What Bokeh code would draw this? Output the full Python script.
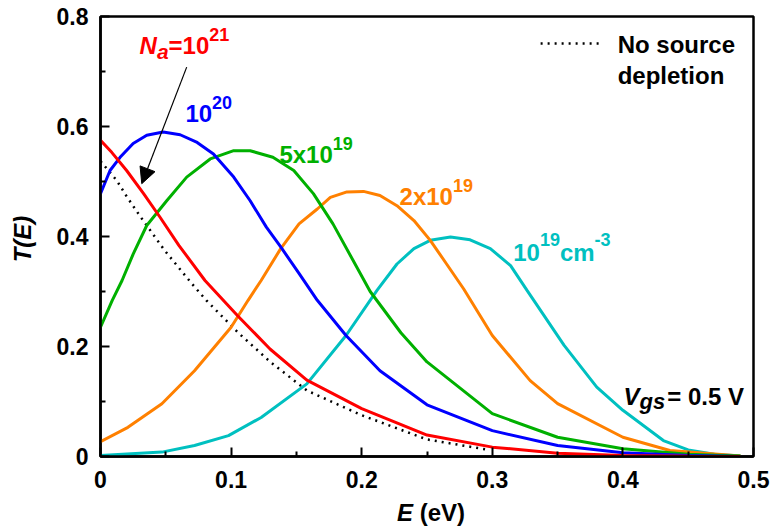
import math
from bokeh.plotting import figure
from bokeh.models import Label, Arrow, NormalHead, Range1d, FixedTicker
from bokeh.embed import file_html
from bokeh.resources import INLINE

# ---------------- data ----------------
E_red = [0, 0.0086, 0.02, 0.033, 0.0456, 0.06, 0.08, 0.105, 0.13, 0.158, 0.2, 0.25, 0.3, 0.35, 0.4, 0.45, 0.49]
T_red = [0.575, 0.553, 0.52, 0.478, 0.435, 0.384, 0.32, 0.256, 0.195, 0.139, 0.087, 0.039, 0.017, 0.006, 0.002, 0.0005, 0.0]

E_dot = [0, 0.0124, 0.02, 0.03, 0.049, 0.07, 0.081, 0.105, 0.13, 0.158, 0.2, 0.25, 0.295]
T_dot = [0.537, 0.502, 0.473, 0.438, 0.375, 0.314, 0.284, 0.226, 0.172, 0.12, 0.075, 0.031, 0.013]

E_blue = [0, 0.0073, 0.015, 0.025, 0.0354, 0.048, 0.061, 0.074, 0.0865, 0.102, 0.1146, 0.127, 0.138, 0.152,
          0.166, 0.188, 0.214, 0.25, 0.3, 0.35, 0.4, 0.45, 0.49]
T_blue = [0.478, 0.52, 0.544, 0.569, 0.584, 0.59, 0.585, 0.571, 0.55, 0.508, 0.465, 0.417, 0.381, 0.333,
          0.284, 0.22, 0.156, 0.094, 0.047, 0.02, 0.007, 0.002, 0.0]

E_green = [0, 0.009, 0.0165, 0.025, 0.0354, 0.0507, 0.066, 0.084, 0.102, 0.1146, 0.132, 0.148, 0.163, 0.178,
           0.2065, 0.23, 0.25, 0.3, 0.35, 0.4, 0.45, 0.49]
T_green = [0.235, 0.284, 0.32, 0.368, 0.42, 0.465, 0.508, 0.541, 0.556, 0.556, 0.544, 0.52, 0.478, 0.423,
           0.3, 0.225, 0.172, 0.078, 0.035, 0.014, 0.004, 0.001]

E_orange = [0, 0.021, 0.047, 0.072, 0.1, 0.113, 0.123, 0.138, 0.152, 0.166, 0.176, 0.1887, 0.2014, 0.214, 0.227,
            0.24, 0.2525, 0.265, 0.278, 0.3, 0.329, 0.35, 0.4, 0.436, 0.49]
T_orange = [0.027, 0.053, 0.096, 0.156, 0.235, 0.284, 0.32, 0.378, 0.423, 0.45, 0.471, 0.481, 0.482, 0.4745, 0.456,
            0.429, 0.393, 0.35, 0.305, 0.22, 0.138, 0.096, 0.035, 0.011, 0.001]

E_cyan = [0, 0.047, 0.072, 0.098, 0.123, 0.158, 0.188, 0.2117, 0.227, 0.24, 0.2525, 0.268, 0.283, 0.2985, 0.314,
          0.3266, 0.355, 0.38, 0.4, 0.431, 0.45, 0.47, 0.49]
T_cyan = [0.002, 0.008, 0.02, 0.038, 0.071, 0.132, 0.22, 0.302, 0.35, 0.378, 0.393, 0.399, 0.394, 0.378, 0.347,
          0.302, 0.202, 0.126, 0.084, 0.029, 0.012, 0.004, 0.001]

x_ticks = [0, 0.1, 0.2, 0.3, 0.4, 0.5]
x_tick_labels = ["0", "0.1", "0.2", "0.3", "0.4", "0.5"]
x_minor = [0.05, 0.15, 0.25, 0.35, 0.45]
y_ticks = [0, 0.2, 0.4, 0.6, 0.8]
y_tick_labels = ["0", "0.2", "0.4", "0.6", "0.8"]
y_minor = [0.1, 0.3, 0.5, 0.7]

legend_sample_E = [0.337, 0.384]
legend_sample_T = [0.751, 0.751]

FONT = "Liberation Sans"
RED, BLUE, GREEN, ORANGE, CYAN = "#ff0000", "#0000ff", "#00b000", "#ff8000", "#00c0c0"
BASE_FIX = 8  # px: lift text so that its baseline sits at the anchor

p = figure(width=773, height=527, x_range=Range1d(0, 0.5), y_range=Range1d(0, 0.8),
           output_backend="svg", toolbar_location=None,
           min_border_left=100, min_border_right=20, min_border_top=16, min_border_bottom=71)
p.grid.visible = False
p.background_fill_color = "white"
p.border_fill_color = "white"
p.outline_line_color = "black"
p.outline_line_width = 2.5

p.xaxis.ticker = FixedTicker(ticks=x_ticks, minor_ticks=x_minor)
p.yaxis.ticker = FixedTicker(ticks=y_ticks, minor_ticks=y_minor)
p.xaxis.major_label_overrides = dict(zip(x_ticks, x_tick_labels))
p.yaxis.major_label_overrides = dict(zip(y_ticks, y_tick_labels))
for ax in (p.xaxis, p.yaxis):
    ax.axis_line_width = 2.5
    ax.axis_line_color = "black"
    ax.major_tick_in = 9
    ax.major_tick_out = 0
    ax.minor_tick_in = 5
    ax.minor_tick_out = 0
    ax.major_tick_line_width = 2
    ax.minor_tick_line_width = 2
    ax.major_label_text_font = FONT
    ax.major_label_text_font_style = "bold"
    ax.major_label_text_font_size = "23px"
    ax.major_label_text_color = "black"
p.xaxis.major_label_standoff = 14
p.yaxis.major_label_standoff = 12

# curves
LW = 3
p.line(E_dot, T_dot, line_color="black", line_width=2.5, line_dash="2 5")
p.line(E_cyan, T_cyan, line_color=CYAN, line_width=LW)
p.line(E_orange, T_orange, line_color=ORANGE, line_width=LW)
p.line(E_green, T_green, line_color=GREEN, line_width=LW)
p.line(E_blue, T_blue, line_color=BLUE, line_width=LW)
p.line(E_red, T_red, line_color=RED, line_width=LW)
p.line(legend_sample_E, legend_sample_T, line_color="black", line_width=2.5, line_dash="2 5")

# arrow
p.add_layout(Arrow(end=NormalHead(size=16, fill_color="black", line_color="black", line_width=1),
                   x_start=0.066, y_start=0.708, x_end=0.0316, y_end=0.496,
                   line_color="black", line_width=1.2))

W = {'0': 556, '1': 556, '2': 556, '3': 556, '4': 556, '5': 556, '6': 556, '7': 556, '8': 556, '9': 556,
     '.': 278, 'x': 556, '=': 584, 'N': 722, 'a': 556, 'c': 556, 'm': 889, '-': 333, 'V': 667,
     'g': 611, 's': 556, ' ': 278, 'E': 667, 'T': 611, '(': 333, ')': 333, 'e': 556, 'v': 556,
     'o': 611, 'u': 611, 'r': 389, 'd': 611, 'p': 611, 'l': 278, 't': 333, 'i': 278, 'n': 611}


def tw(s, size):
    return sum(W.get(c, 556) for c in s) * size / 1000.0


def make_label(x, y, text, size, italic, color, xo=0.0, yo=0.0, angle=0.0):
    if angle == 0.0:
        yo = yo + BASE_FIX
    else:
        xo = xo - BASE_FIX
    lab = Label(x=x, y=y, x_offset=xo, y_offset=yo, text=text, angle=angle)
    lab.text_font = FONT
    lab.text_font_style = "bold italic" if italic else "bold"
    lab.text_font_size = f"{size}px"
    lab.text_color = color
    lab.text_align = "left"
    lab.text_baseline = "alphabetic"
    return lab


def rich(x, y, parts, color, place="center"):
    # parts: (text, size_px, italic, raise_px, extra_gap_px)
    off = 0.0
    for txt, size, italic, dy, gap in parts:
        off += gap
        lab = make_label(x, y, txt, size, italic, color, xo=off, yo=dy)
        if place == "center":
            p.add_layout(lab)
        else:
            p.add_layout(lab, place)
        off += tw(txt, size)


rich(0.0299, 0.733, [("N", 24, True, 0, 0), ("a", 21, True, -6, 0), ("=10", 24, False, 0, 0),
                     ("21", 18, False, 11, 0)], RED)
rich(0.065, 0.609, [("10", 24, False, 0, 0), ("20", 18, False, 11, 0)], BLUE)
rich(0.137, 0.535, [("5x10", 24, False, 0, 0), ("19", 18, False, 11, 0)], GREEN)
rich(0.229, 0.458, [("2x10", 24, False, 0, 0), ("19", 18, False, 11, 0)], ORANGE)
rich(0.316, 0.356, [("10", 24, False, 0, 0), ("19", 18, False, 13, 0), ("cm", 24, False, 0, 0),
                    ("-3", 18, False, 13, 0)], CYAN)
rich(0.396, 0.735, [("No source", 24, False, 0, 0)], "black")
rich(0.396, 0.678, [("depletion", 24, False, 0, 0)], "black")
rich(0.4005, 0.0945, [("V", 24, True, 0, 0), ("gs", 22, True, -5, 0), ("= 0.5 V", 24, False, 0, 2)], "black")

# axis titles, placed in side panels so they are not clipped to the frame
# x title: italic "E" (left panel, narrow) + "(eV)" (below panel)
p.add_layout(make_label(0.227, -0.1164, "E", 24, True, "black"), "left")
p.add_layout(make_label(0.227, -0.1164, "(eV)", 24, False, "black", xo=tw("E ", 24)), "below")
# y title
p.add_layout(make_label(-0.0536, 0.353, "T(E)", 24, True, "black", angle=math.pi / 2), "left")

open("out.html", "w").write(file_html(p, INLINE))
